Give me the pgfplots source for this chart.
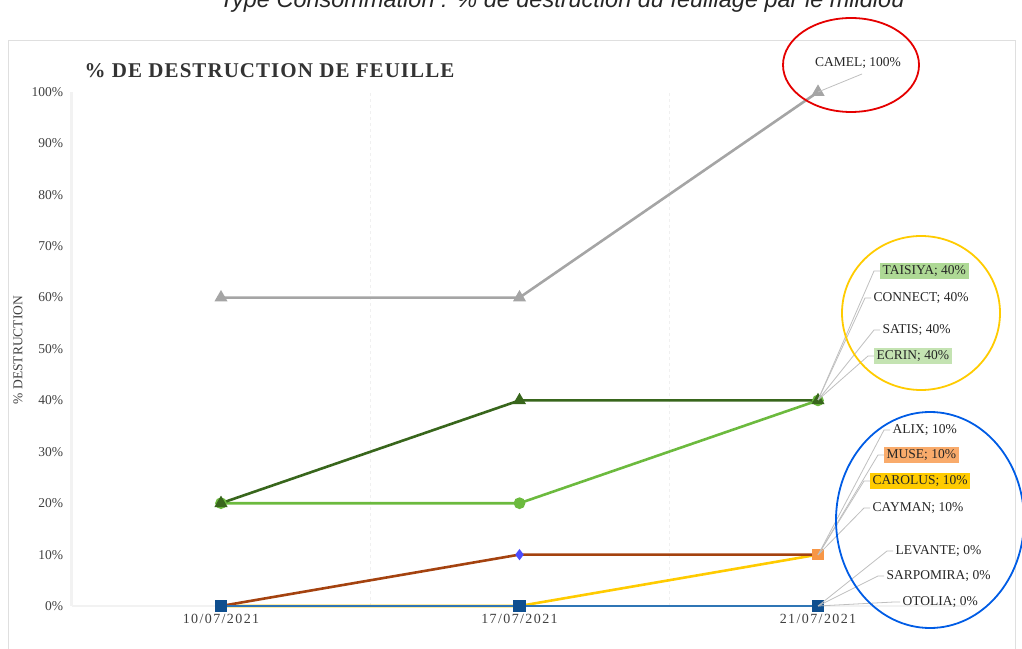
\documentclass[border=0pt]{standalone}
\usepackage{pgfplots}
\pgfplotsset{compat=1.18}
\usepackage{fontspec}
\setmainfont{Liberation Serif}
\newfontfamily\titlesans{Liberation Sans}

\definecolor{camel}{HTML}{A5A5A5}
\definecolor{taisiya}{HTML}{38661C}
\definecolor{ecrin}{HTML}{6CBA3E}
\definecolor{muse}{HTML}{A4420F}
\definecolor{museend}{HTML}{F79646}
\definecolor{carolus}{HTML}{FFCB00}
\definecolor{blueline}{HTML}{2F75B5}
\definecolor{bluemark}{HTML}{0F4F8F}
\definecolor{leader}{HTML}{BFBFBF}
\definecolor{txt}{HTML}{404040}

\begin{document}
\begin{tikzpicture}[x=1pt,y=1pt]
\useasboundingbox (0,0) rectangle (1022,648);

% chart frame and cut-off heading
\draw[gray!25] (8,608) rectangle (1015,-20);
\node[anchor=base, font=\titlesans\itshape\fontsize{23.5}{23.5}\selectfont, text=black!85] at (562,640) {Type Consommation : \% de destruction du feuillage par le mildiou};

\begin{axis}[
  at={(71.75pt,42pt)}, anchor=south west,
  scale only axis, width=895.5pt, height=514pt,
  xmin=-0.5, xmax=2.5, ymin=0, ymax=100,
  xtick={0,1,2},
  xticklabels={10/07/2021,17/07/2021,21/07/2021},
  minor xtick={0.5,1.5},
  minor x grid style={gray!12, dashed},
  xminorgrids,
  ytick={0,10,...,100},
  yticklabel={\pgfmathprintnumber{\tick}\%},
  major tick length=0pt, minor tick length=0pt,
  axis line style={gray!10},
  axis x line*=bottom, axis y line*=left,
  tick label style={text=txt},
  yticklabel style={font=\fontsize{13.5}{13.5}\selectfont, xshift=-4pt},
  xticklabel style={font=\addfontfeature{LetterSpace=10}\fontsize{14}{14}\selectfont, yshift=-4pt},
  /pgf/number format/assume math mode=true,
  clip=false,
  line width=2.6pt,
]
\addplot[camel, mark=triangle*, mark size=5pt] coordinates {(0,60) (1,60) (2,100)};
\addplot[ecrin, mark=*, mark size=4.5pt] coordinates {(0,20) (1,20) (2,40)};
\addplot[taisiya, mark=triangle*, mark size=5pt] coordinates {(0,20) (1,40) (2,40)};
\addplot[carolus, mark=none] coordinates {(0,0) (1,0) (2,10)};
\addplot[muse, mark=none] coordinates {(0,0) (1,10) (2,10)};
\addplot[blue!70, only marks, mark=diamond*, mark size=3.5pt] coordinates {(1,10)};
\addplot[museend, only marks, mark=square*, mark size=4.5pt] coordinates {(2,10)};
\addplot[blueline, mark=square*, mark size=5pt, mark options={bluemark}] coordinates {(0,0) (1,0) (2,0)};
\end{axis}

% data callouts (pixel coordinates, y from top)
\begin{scope}[shift={(0,648)}, y=-1pt, every node/.style={font=\fontsize{13.5}{13.5}\selectfont, text=black!85, inner sep=2.5pt}]
  \node[rotate=90, text=txt] at (18,350) {\% DESTRUCTION};
  \draw[leader, line width=0.8pt] (818,92) -- (862,74);
  \node at (858,63) {CAMEL;\ 100\%};
  \foreach \ya/\xa in {271/880,298/871,330/880,356/874}{
    \draw[leader, line width=0.8pt] (818,400) -- (\xa-6,\ya) -- (\xa,\ya);
  }
  \foreach \ya/\xa in {430/890,455/884,481/870,508/870}{
    \draw[leader, line width=0.8pt] (818,555) -- (\xa-6,\ya) -- (\xa,\ya);
  }
  \foreach \ya/\xa in {551/893,576/884,602/900}{
    \draw[leader, line width=0.8pt] (818,606) -- (\xa-6,\ya) -- (\xa,\ya);
  }
  \node[anchor=west, fill=ecrin!55] at (880,271) {TAISIYA;\ 40\%};
  \node[anchor=west] at (871,298) {CONNECT; 40\%};
  \node[anchor=west] at (880,330) {SATIS;\ 40\%};
  \node[anchor=west, fill=ecrin!40] at (874,356) {ECRIN; 40\%};
  \node[anchor=west] at (890,430) {ALIX;\ 10\%};
  \node[anchor=west, fill=museend!80] at (884,455) {MUSE; 10\%};
  \node[anchor=west, fill=carolus] at (870,481) {CAROLUS; 10\%};
  \node[anchor=west] at (870,508) {CAYMAN;\ 10\%};
  \node[anchor=west] at (893,551) {LEVANTE;\ 0\%};
  \node[anchor=west] at (884,576) {SARPOMIRA;\ 0\%};
  \node[anchor=west] at (900,602) {OTOLIA;\ 0\%};

  \node[anchor=west, font=\bfseries\fontsize{21}{21}\selectfont\addfontfeature{LetterSpace=5}, text=black!80] at (82,71) {\% DE DESTRUCTION DE FEUILLE};

  \draw[red!90!black, line width=1.8pt] (851,65) ellipse [x radius=68, y radius=47];
  \draw[carolus, line width=1.8pt] (921,313) ellipse [x radius=79, y radius=77];
  \draw[blue!60!cyan!90!black, line width=1.8pt] (930,520) ellipse [x radius=94, y radius=108];
\end{scope}
\end{tikzpicture}
\end{document}
